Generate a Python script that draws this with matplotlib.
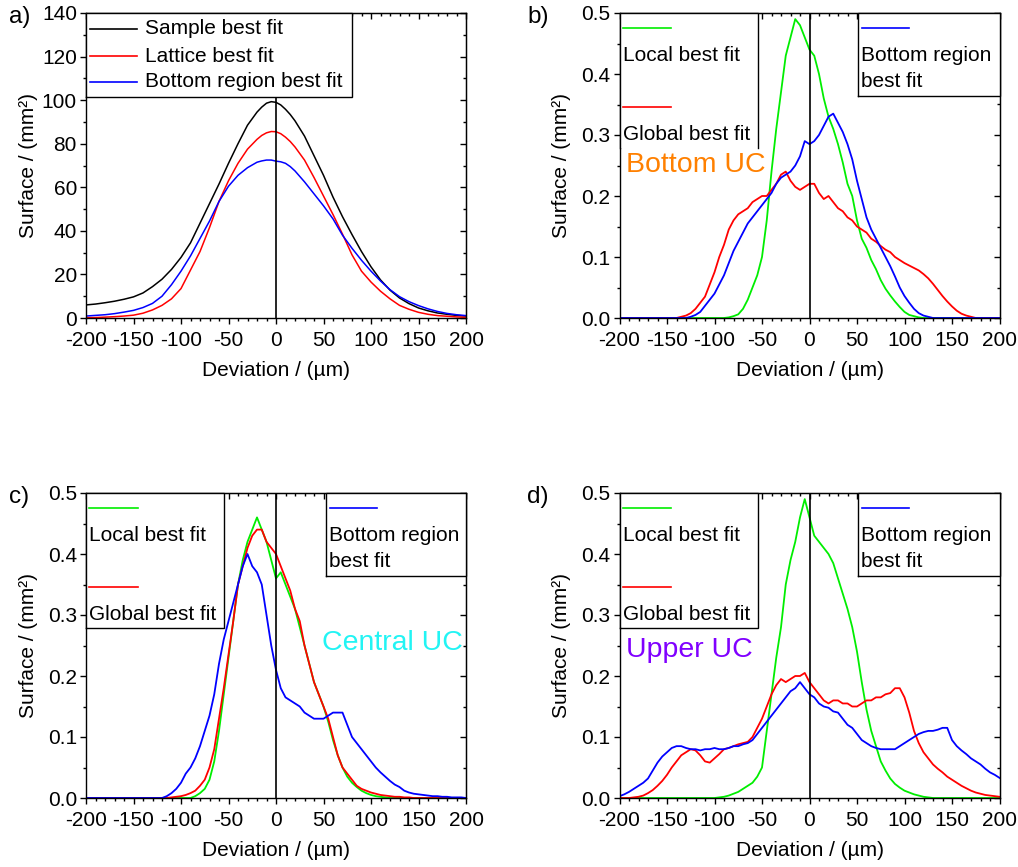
import matplotlib
matplotlib.use("Agg")
import matplotlib.pyplot as plt
from matplotlib.patches import Rectangle
from matplotlib.ticker import MultipleLocator, FormatStrFormatter, NullFormatter

plt.rcParams['font.family'] = ['Liberation Sans', 'DejaVu Sans']
plt.rcParams['axes.unicode_minus'] = False
FS = 15

# ---------------- data ----------------
# panel a: deviation grid (10 um steps, 5 um around the maximum)
dev_a = [-200, -190, -180, -170, -160, -150, -140, -130, -120, -110, -100,
         -90, -80, -70, -60, -50, -40, -30, -20, -15, -10, -5, 0,
         5, 10, 15, 20, 30, 40, 50, 60, 70, 80, 90, 100,
         110, 120, 130, 140, 150, 160, 170, 180, 190, 200]
sample_fit = [6.0, 6.4, 7.0, 7.7, 8.6, 9.7, 11.5, 14.4, 17.8, 22.3, 27.8,
              34.5, 43.5, 52.5, 61.5, 71.0, 80.0, 88.5, 94.5, 96.8, 98.6, 99.3, 99.0,
              97.8, 95.8, 93.4, 90.5, 83.5, 74.5, 65.5, 55.5, 46.5, 38.3, 30.5, 23.5,
              17.5, 12.8, 9.2, 6.6, 4.6, 3.3, 2.3, 1.7, 1.2, 0.9]
lattice_fit = [0.15, 0.2, 0.4, 0.6, 0.9, 1.3, 2.2, 3.7, 5.8, 8.8, 13.5,
               22.0, 30.5, 41.5, 53.5, 63.0, 71.0, 77.5, 82.0, 83.8, 85.0, 85.6, 85.5,
               84.6, 83.0, 81.0, 78.5, 72.5, 64.5, 56.0, 47.5, 38.5, 29.0, 21.5, 16.5,
               12.3, 8.8, 5.8, 4.0, 2.6, 1.7, 1.1, 0.8, 0.5, 0.3]
bottom_fit = [0.9, 1.2, 1.5, 2.0, 2.7, 3.5, 4.8, 6.7, 10.0, 15.3, 21.5,
              28.5, 36.5, 44.5, 53.5, 60.5, 65.5, 69.0, 71.5, 72.1, 72.5, 72.5, 72.0,
              71.7, 71.0, 69.5, 67.5, 62.5, 57.0, 51.5, 45.5, 38.0, 32.0, 26.5, 21.5,
              17.0, 13.0, 9.8, 7.5, 5.7, 4.2, 3.0, 2.1, 1.5, 1.1]

# panels b-d: deviation grid in 5 um steps
dev = [-200, -195, -190, -185, -180, -175, -170, -165, -160, -155,
       -150, -145, -140, -135, -130, -125, -120, -115, -110, -105,
       -100, -95, -90, -85, -80, -75, -70, -65, -60, -55,
       -50, -45, -40, -35, -30, -25, -20, -15, -10, -5,
       0, 5, 10, 15, 20, 25, 30, 35, 40, 45,
       50, 55, 60, 65, 70, 75, 80, 85, 90, 95,
       100, 105, 110, 115, 120, 125, 130, 135, 140, 145,
       150, 155, 160, 165, 170, 175, 180, 185, 190, 195, 200]

# bottom unit cell
local_b = [0, 0, 0, 0, 0, 0, 0, 0, 0, 0,
           0, 0, 0, 0, 0, 0, 0, 0, 0, 0,
           0, 0, 0, 0.001, 0.003, 0.006, 0.015, 0.03, 0.05, 0.07,
           0.10, 0.16, 0.24, 0.31, 0.37, 0.43, 0.46, 0.49, 0.48, 0.46,
           0.44, 0.43, 0.40, 0.36, 0.33, 0.31, 0.285, 0.255, 0.22, 0.20,
           0.16, 0.13, 0.115, 0.095, 0.08, 0.062, 0.048, 0.037, 0.027, 0.018,
           0.010, 0.005, 0.003, 0.001, 0, 0, 0, 0, 0, 0,
           0, 0, 0, 0, 0, 0, 0, 0, 0, 0, 0]
global_b = [0, 0, 0, 0, 0, 0, 0, 0, 0, 0,
            0, 0, 0, 0.002, 0.004, 0.008, 0.015, 0.025, 0.035, 0.055,
            0.075, 0.10, 0.12, 0.145, 0.16, 0.17, 0.175, 0.18, 0.19, 0.195,
            0.20, 0.20, 0.21, 0.22, 0.235, 0.24, 0.225, 0.215, 0.21, 0.215,
            0.22, 0.22, 0.205, 0.195, 0.20, 0.19, 0.18, 0.175, 0.165, 0.16,
            0.15, 0.145, 0.14, 0.13, 0.125, 0.118, 0.112, 0.108, 0.10, 0.095,
            0.09, 0.086, 0.082, 0.078, 0.072, 0.065, 0.056, 0.046, 0.036, 0.027,
            0.019, 0.012, 0.007, 0.004, 0.002, 0, 0, 0, 0, 0, 0]
region_b = [0, 0, 0, 0, 0, 0, 0, 0, 0, 0,
            0, 0, 0, 0, 0, 0.002, 0.005, 0.01, 0.02, 0.03,
            0.04, 0.055, 0.07, 0.09, 0.11, 0.125, 0.14, 0.155, 0.165, 0.175,
            0.185, 0.195, 0.205, 0.22, 0.23, 0.235, 0.24, 0.25, 0.265, 0.29,
            0.285, 0.29, 0.30, 0.315, 0.33, 0.335, 0.32, 0.305, 0.285, 0.26,
            0.225, 0.195, 0.165, 0.145, 0.13, 0.115, 0.10, 0.085, 0.068, 0.05,
            0.036, 0.025, 0.015, 0.008, 0.004, 0.002, 0, 0, 0, 0,
            0, 0, 0, 0, 0, 0, 0, 0, 0, 0, 0]

# central unit cell
local_c = [0, 0, 0, 0, 0, 0, 0, 0, 0, 0,
           0, 0, 0, 0, 0, 0, 0, 0, 0, 0,
           0, 0, 0, 0.003, 0.008, 0.015, 0.03, 0.06, 0.11, 0.17,
           0.23, 0.29, 0.35, 0.39, 0.42, 0.44, 0.46, 0.44, 0.42, 0.39,
           0.36, 0.37, 0.35, 0.33, 0.31, 0.28, 0.25, 0.22, 0.19, 0.17,
           0.15, 0.125, 0.095, 0.07, 0.05, 0.035, 0.025, 0.018, 0.012, 0.008,
           0.005, 0.003, 0.002, 0.001, 0, 0, 0, 0, 0, 0,
           0, 0, 0, 0, 0, 0, 0, 0, 0, 0, 0]
global_c = [0, 0, 0, 0, 0, 0, 0, 0, 0, 0,
            0, 0, 0, 0, 0, 0, 0, 0, 0.001, 0.002,
            0.003, 0.005, 0.008, 0.012, 0.02, 0.03, 0.05, 0.08, 0.13, 0.18,
            0.235, 0.29, 0.35, 0.38, 0.41, 0.43, 0.44, 0.44, 0.42, 0.41,
            0.40, 0.38, 0.36, 0.34, 0.31, 0.29, 0.25, 0.22, 0.19, 0.17,
            0.15, 0.13, 0.10, 0.07, 0.05, 0.04, 0.03, 0.02, 0.015, 0.012,
            0.009, 0.007, 0.005, 0.004, 0.003, 0.002, 0.002, 0.001, 0.001, 0,
            0, 0, 0, 0, 0, 0, 0, 0, 0, 0, 0]
region_c = [0, 0, 0, 0, 0, 0, 0, 0, 0, 0,
            0, 0, 0, 0, 0, 0, 0, 0.003, 0.008, 0.015,
            0.025, 0.04, 0.05, 0.065, 0.085, 0.11, 0.135, 0.17, 0.22, 0.26,
            0.29, 0.32, 0.35, 0.38, 0.40, 0.38, 0.37, 0.35, 0.30, 0.25,
            0.21, 0.18, 0.165, 0.16, 0.155, 0.15, 0.14, 0.135, 0.13, 0.13,
            0.13, 0.135, 0.14, 0.14, 0.14, 0.12, 0.10, 0.09, 0.08, 0.07,
            0.06, 0.05, 0.042, 0.035, 0.028, 0.022, 0.018, 0.012, 0.009, 0.007,
            0.006, 0.005, 0.004, 0.003, 0.003, 0.002, 0.002, 0.001, 0.001, 0.001, 0]

# upper unit cell
local_d = [0, 0, 0, 0, 0, 0, 0, 0, 0, 0,
           0, 0, 0, 0, 0, 0, 0, 0, 0, 0,
           0, 0.001, 0.002, 0.004, 0.007, 0.01, 0.015, 0.02, 0.025, 0.035,
           0.05, 0.11, 0.17, 0.23, 0.28, 0.35, 0.39, 0.42, 0.46, 0.49,
           0.46, 0.43, 0.42, 0.41, 0.40, 0.385, 0.36, 0.335, 0.31, 0.28,
           0.24, 0.19, 0.145, 0.11, 0.085, 0.06, 0.045, 0.032, 0.023, 0.017,
           0.012, 0.009, 0.006, 0.004, 0.002, 0.001, 0, 0, 0, 0,
           0, 0, 0, 0, 0, 0, 0, 0, 0, 0, 0]
global_d = [0, 0, 0, 0.001, 0.002, 0.004, 0.008, 0.013, 0.02, 0.028,
            0.038, 0.05, 0.06, 0.07, 0.075, 0.08, 0.078, 0.07, 0.06, 0.058,
            0.065, 0.072, 0.08, 0.082, 0.085, 0.088, 0.09, 0.092, 0.10, 0.115,
            0.13, 0.15, 0.17, 0.185, 0.195, 0.19, 0.195, 0.20, 0.20, 0.205,
            0.19, 0.18, 0.17, 0.16, 0.155, 0.16, 0.16, 0.155, 0.155, 0.15,
            0.15, 0.155, 0.16, 0.16, 0.165, 0.165, 0.17, 0.172, 0.18, 0.18,
            0.165, 0.14, 0.11, 0.09, 0.075, 0.065, 0.055, 0.048, 0.042, 0.035,
            0.03, 0.025, 0.02, 0.016, 0.012, 0.009, 0.007, 0.005, 0.004, 0.003, 0.002]
region_d = [0.003, 0.006, 0.01, 0.015, 0.02, 0.025, 0.032, 0.045, 0.058, 0.068,
            0.075, 0.082, 0.085, 0.085, 0.082, 0.08, 0.08, 0.078, 0.08, 0.08,
            0.082, 0.08, 0.08, 0.082, 0.085, 0.085, 0.088, 0.09, 0.095, 0.105,
            0.115, 0.125, 0.135, 0.145, 0.155, 0.165, 0.175, 0.18, 0.19, 0.18,
            0.17, 0.165, 0.155, 0.15, 0.148, 0.142, 0.14, 0.13, 0.12, 0.115,
            0.105, 0.095, 0.09, 0.085, 0.082, 0.08, 0.08, 0.08, 0.08, 0.085,
            0.09, 0.095, 0.10, 0.105, 0.108, 0.11, 0.11, 0.112, 0.115, 0.115,
            0.095, 0.085, 0.078, 0.072, 0.065, 0.06, 0.055, 0.048, 0.042, 0.038, 0.033]

GREEN, RED, BLUE, BLACK = '#00ee00', '#ff0000', '#0000ff', '#000000'

# ---------------- layout ----------------
W, H = 1018, 867
fig = plt.figure(figsize=(W / 100, H / 100), dpi=100)


def rect(l, t, r, b):
    return [l / W, 1 - b / H, (r - l) / W, (b - t) / H]


def style(ax, ymax, ymaj, ymin, fmt):
    ax.set_xlim(-200, 200)
    ax.set_ylim(0, ymax)
    ax.xaxis.set_major_locator(MultipleLocator(50))
    ax.xaxis.set_minor_locator(MultipleLocator(10))
    ax.yaxis.set_major_locator(MultipleLocator(ymaj))
    ax.yaxis.set_minor_locator(MultipleLocator(ymin))
    ax.yaxis.set_major_formatter(FormatStrFormatter(fmt))
    ax.tick_params(which='both', direction='out', width=1, labelsize=FS,
                   top=False, right=False)
    ax.tick_params(which='major', length=4.5)
    ax.tick_params(which='minor', length=2.2)
    ax.tick_params(axis='x', pad=5)
    ax.tick_params(axis='y', pad=2)
    for s in ax.spines.values():
        s.set_linewidth(1.0)
    sx = ax.secondary_xaxis('top')
    sx.xaxis.set_major_locator(MultipleLocator(50))
    sx.xaxis.set_minor_locator(MultipleLocator(10))
    sx.xaxis.set_major_formatter(NullFormatter())
    sx.tick_params(which='both', direction='in', width=1)
    sx.tick_params(which='major', length=4.5)
    sx.tick_params(which='minor', length=2.2)
    sy = ax.secondary_yaxis('right')
    sy.yaxis.set_major_locator(MultipleLocator(ymaj))
    sy.yaxis.set_minor_locator(MultipleLocator(ymin))
    sy.yaxis.set_major_formatter(NullFormatter())
    sy.tick_params(which='both', direction='in', width=1)
    sy.tick_params(which='major', length=4.5)
    sy.tick_params(which='minor', length=2.2)
    ax.axvline(0, color='black', lw=1.2, zorder=3)
    ax.set_xlabel('Deviation / (µm)', fontsize=FS)
    ax.set_ylabel('Surface / (mm²)', fontsize=FS)
    ax.xaxis.set_label_coords(0.5, -0.142)
    ax.yaxis.set_label_coords(-0.127, 0.5)


def box(ax, x0, y0, x1, y1, bottom_edge=True):
    ax.add_patch(Rectangle((x0, y0), x1 - x0, y1 - y0, transform=ax.transAxes,
                           facecolor='white', edgecolor='none',
                           zorder=10, clip_on=False))
    xs = [x0, x0, x1, x1, x0] if bottom_edge else [x0, x0, x1, x1]
    ys = [y0, y1, y1, y0, y0] if bottom_edge else [y0, y1, y1, y0]
    ax.plot(xs, ys, transform=ax.transAxes, color='black', lw=1.0,
            zorder=10.5, clip_on=False, solid_joinstyle='miter')


def handle(ax, x0, x1, y, color):
    ax.plot([x0, x1], [y, y], transform=ax.transAxes, color=color, lw=1.2,
            zorder=11, clip_on=False)


def label(ax, x, y, s):
    ax.text(x, y, s, transform=ax.transAxes, fontsize=FS, va='center',
            ha='left', zorder=12)


def split_legend(ax, right_x0, bottom_edge):
    # left box: local and global fits
    box(ax, 0.0, 0.559, 0.364, 1.0, bottom_edge)
    handle(ax, 0.009, 0.136, 0.951, GREEN)
    label(ax, 0.009, 0.862, 'Local best fit')
    handle(ax, 0.009, 0.136, 0.692, RED)
    label(ax, 0.009, 0.600, 'Global best fit')
    # right box: bottom region fit
    box(ax, right_x0, 0.728, 1.0, 1.0)
    handle(ax, right_x0 + 0.010, right_x0 + 0.134, 0.951, BLUE)
    label(ax, right_x0 + 0.008, 0.862, 'Bottom region')
    label(ax, right_x0 + 0.008, 0.774, 'best fit')


# panel a
ax_a = fig.add_axes(rect(86, 13, 466, 318))
ax_a.plot(dev_a, sample_fit, color=BLACK, lw=1.1)
ax_a.plot(dev_a, lattice_fit, color=RED, lw=1.1)
ax_a.plot(dev_a, bottom_fit, color=BLUE, lw=1.1)
style(ax_a, 140, 20, 10, '%d')
box(ax_a, 0.0, 0.725, 0.70, 1.0)
for y, c, s in [(0.948, BLACK, 'Sample best fit'),
                (0.859, RED, 'Lattice best fit'),
                (0.774, BLUE, 'Bottom region best fit')]:
    handle(ax_a, 0.011, 0.134, y, c)
    label(ax_a, 0.155, y, s)

# panels b, c, d
panels = [
    (rect(619.5, 13, 999.5, 318), local_b, global_b, region_b, 0.628, False,
     'Bottom UC', '#ff8000', 0.017, 0.502),
    (rect(86, 493, 466, 798), local_c, global_c, region_c, 0.631, True,
     'Central UC', '#22f4f4', 0.621, 0.508),
    (rect(619.5, 493, 999.5, 798), local_d, global_d, region_d, 0.628, True,
     'Upper UC', '#8000ff', 0.017, 0.485),
]
for r, loc, glo, reg, rx0, edge, name, ncol, nx, ny in panels:
    ax = fig.add_axes(r)
    ax.plot(dev, loc, color=GREEN, lw=1.3)
    ax.plot(dev, glo, color=RED, lw=1.3)
    ax.plot(dev, reg, color=BLUE, lw=1.3)
    style(ax, 0.5, 0.1, 0.05, '%.1f')
    split_legend(ax, rx0, edge)
    ax.text(nx, ny, name, transform=ax.transAxes, fontsize=20.5, color=ncol,
            va='center', ha='left', zorder=13)

# panel letters
for x, y, s in [(9, 17, 'a)'), (527, 17, 'b)'), (9, 497, 'c)'), (527, 497, 'd)')]:
    fig.text(x / W, 1 - y / H, s, fontsize=17.5, va='center', ha='left')

fig.savefig('out.png', dpi=100)
